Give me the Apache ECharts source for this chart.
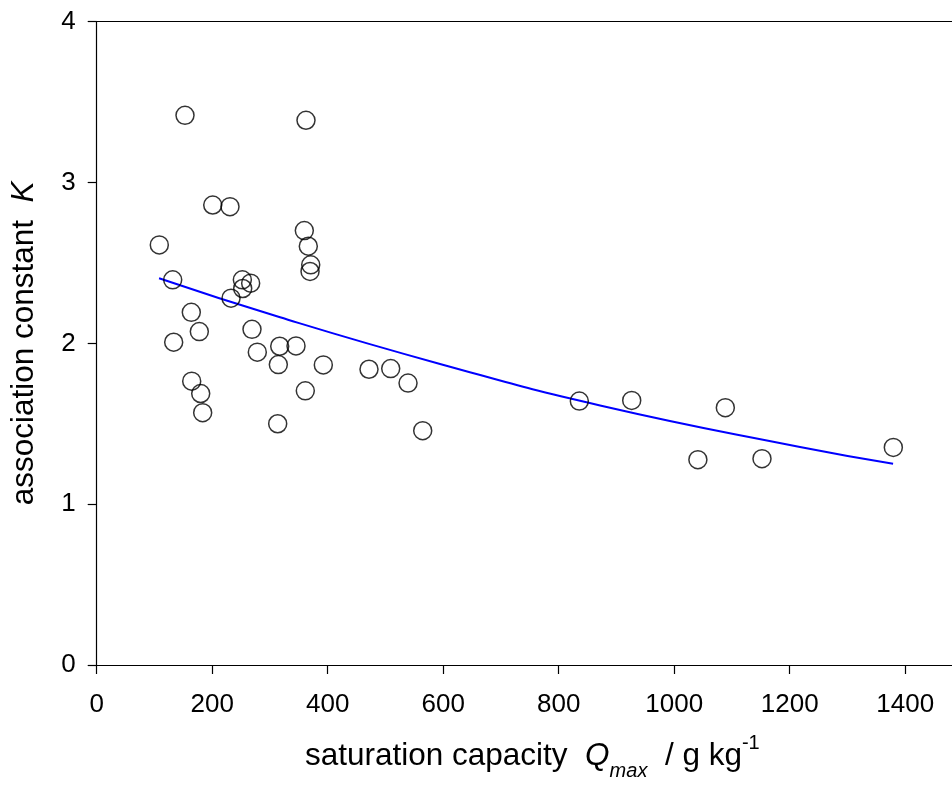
<!DOCTYPE html>
<html>
<head>
<meta charset="utf-8">
<script src="https://cdn.jsdelivr.net/npm/echarts@6/dist/echarts.min.js"></script>
<style>
  html, body { margin: 0; padding: 0; background: #fff; }
  #chart { width: 952px; height: 786px; }
</style>
</head>
<body>
<div id="chart"></div>
<script>
// measured points (Qmax in g/kg, K)
const qmax = [108.4, 131.6, 133.3, 152.9, 163.8, 164.5, 177.7, 180.1, 183.5, 200.9,
  230.8, 232.6, 252.2, 252.8, 266.6, 268.9, 278.1, 313.4, 314.5, 316.9,
  345.1, 359.5, 361.2, 362.4, 366.4, 369.4, 370.6, 392.4, 471.5, 509.1,
  539.1, 564.5, 835.7, 926.4, 1041, 1088.5, 1152, 1379.4];
const kVals = [2.612, 2.395, 2.007, 3.418, 2.193, 1.765, 2.073, 1.688, 1.569, 2.860,
  2.850, 2.281, 2.395, 2.341, 2.374, 2.087, 1.945, 1.500, 1.868, 1.982,
  1.984, 2.701, 1.705, 3.387, 2.604, 2.447, 2.488, 1.866, 1.839, 1.843,
  1.753, 1.457, 1.641, 1.645, 1.277, 1.600, 1.283, 1.353];

// fitted curve
const fitQ = [108, 317.5, 594.5, 871.6, 1217.8, 1379];
const fitK = [2.405, 2.162, 1.872, 1.614, 1.356, 1.252];

const xTicks = [0, 200, 400, 600, 800, 1000, 1200, 1400];
const yTicks = [0, 1, 2, 3, 4];

const chart = echarts.init(document.getElementById('chart'));

const font = 'Liberation Sans, Arial, sans-serif';
const points = qmax.map((q, i) => [q, kVals[i]]);
const fit = fitQ.map((q, i) => [q, fitK[i]]);

// the frame is cut by the right edge of the picture, so the axis stops at ~1481
chart.setOption({
  backgroundColor: '#fff',
  animation: false,
  grid: { left: 96.7, top: 21.7, right: 0, bottom: 119 },
  xAxis: [{
    type: 'value', min: 0, max: 1481, interval: 100,
    axisLine: { lineStyle: { color: '#000', width: 1.2 } },
    axisTick: { show: true, length: 9, lineStyle: { color: '#000', width: 1.2 }, customValues: xTicks },
    axisLabel: { color: '#000', fontSize: 26, fontFamily: font, margin: 27, customValues: xTicks,
      formatter: v => String(v) },
    splitLine: { show: false },
    name: '{n|saturation capacity  }{i|Q}{sub|max}{n|  / g kg}{sup|-1}',
    nameLocation: 'middle', nameGap: 70,
    nameTextStyle: {
      color: '#000', fontFamily: font, padding: [0, 0, 0, 16],
      rich: {
        n: { fontSize: 31.5, fontFamily: font, color: '#000', lineHeight: 42 },
        i: { fontSize: 31.5, fontFamily: font, color: '#000', fontStyle: 'italic', lineHeight: 42 },
        sub: { fontSize: 20, fontFamily: font, color: '#000', fontStyle: 'italic', lineHeight: 42, verticalAlign: 'bottom', padding: [0, 0, -4, 0] },
        sup: { fontSize: 20, fontFamily: font, color: '#000', lineHeight: 42, verticalAlign: 'top', padding: [-2, 0, 0, 0] }
      }
    }
  }, {
    // top frame line
    type: 'value', position: 'top', min: 0, max: 1481,
    axisLine: { lineStyle: { color: '#000', width: 1.2 } },
    axisTick: { show: false }, axisLabel: { show: false }, splitLine: { show: false }
  }],
  yAxis: {
    type: 'value', min: 0, max: 4, interval: 1,
    axisLine: { show: true, lineStyle: { color: '#000', width: 1.2 } },
    axisTick: { show: true, length: 9, lineStyle: { color: '#000', width: 1.2 }, customValues: yTicks },
    axisLabel: { color: '#000', fontSize: 26, fontFamily: font, margin: 21, customValues: yTicks },
    splitLine: { show: false },
    name: '{n|association constant  }{i|K}',
    nameLocation: 'middle', nameGap: 56, nameRotate: 90,
    nameTextStyle: {
      color: '#000', fontFamily: font,
      rich: {
        n: { fontSize: 31.5, fontFamily: font, color: '#000' },
        i: { fontSize: 31.5, fontFamily: font, color: '#000', fontStyle: 'italic' }
      }
    }
  },
  series: [{
    type: 'line',
    data: fit,
    smooth: true,
    showSymbol: false,
    lineStyle: { color: '#0000ff', width: 2 },
    silent: true,
    z: 2
  }, {
    type: 'scatter',
    data: points,
    symbol: 'circle',
    symbolSize: 18,
    itemStyle: { color: 'rgba(0,0,0,0)', borderColor: '#000', borderWidth: 1.5 },
    z: 3
  }]
});
</script>
</body>
</html>
